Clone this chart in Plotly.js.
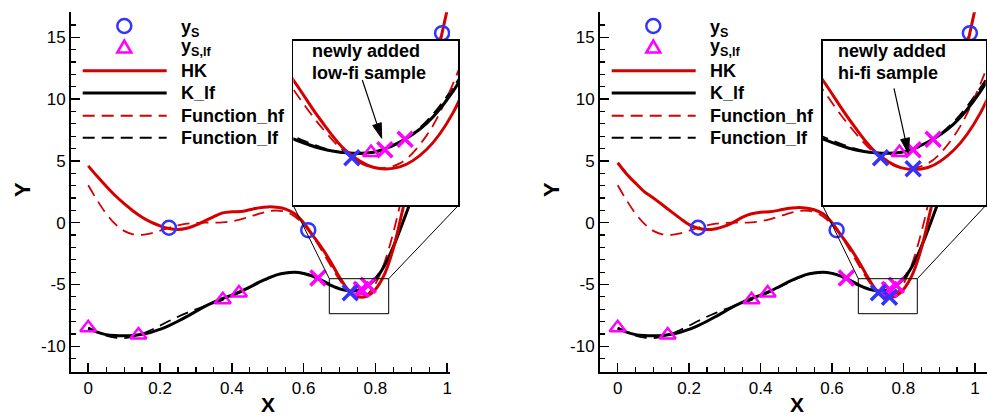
<!DOCTYPE html>
<html><head><meta charset="utf-8">
<script src="https://cdn.plot.ly/plotly-3.0.1.min.js"></script>
<style>html,body{margin:0;padding:0;background:#fff}#chart{width:987px;height:417px}</style>
</head><body><div id="chart"></div>
<script>
// ---------------- data ----------------
const xGrid = [0,0.025,0.05,0.075,0.1,0.125,0.15,0.175,0.2,0.225,0.25,0.275,0.3,0.325,0.35,0.375,0.4,0.425,0.45,0.475,0.5,0.525,0.55,0.575,0.6,0.625,0.65,0.675,0.7,0.725,0.75,0.775,0.8,0.825,0.85,0.875,0.9,0.925,0.95,0.975,1];
const hkLeft = [4.6,3.75,2.95,2.2,1.55,0.95,0.45,0.05,-0.25,-0.47,-0.55,-0.45,-0.2,0.15,0.5,0.8,0.88,0.9,1.05,1.2,1.28,1.25,1.1,0.72,0.0,-1.0,-2.0,-3.13,-4.4,-5.45,-5.97,-5.96,-5.4,-4.2,-2.1,0.9,4.0,7.3,10.6,13.9,17.2];
const hkRight = [4.85,3.95,3.2,2.5,2.0,1.45,0.9,0.35,-0.15,-0.45,-0.55,-0.48,-0.28,0.05,0.45,0.72,0.85,0.88,1.0,1.15,1.22,1.2,1.05,0.72,0.0,-1.0,-2.0,-3.13,-4.4,-5.47,-5.99,-5.98,-5.4,-4.2,-2.1,0.9,4.0,7.3,10.6,13.9,17.2];
const kLf = [-8.55,-8.85,-9.05,-9.13,-9.15,-9.12,-9.02,-8.87,-8.62,-8.32,-7.97,-7.58,-7.17,-6.77,-6.42,-6.12,-5.85,-5.56,-5.2,-4.83,-4.5,-4.22,-4.06,-4.0,-4.1,-4.32,-4.68,-5.05,-5.35,-5.5,-5.48,-5.15,-4.55,-3.5,-1.95,-0.1,1.85,3.85,5.65,7.05,7.9];
const fnHf = [3.027,1.813,0.738,-0.100,-0.657,-0.935,-0.978,-0.854,-0.640,-0.407,-0.210,-0.079,-0.016,0.000,0.002,0.030,0.115,0.270,0.483,0.717,0.909,0.986,0.871,0.503,-0.149,-1.074,-2.209,-3.439,-4.606,-5.522,-5.993,-5.845,-4.949,-3.253,-0.799,2.272,5.712,9.187,12.303,14.648,15.830];
const fnLf = [-8.487,-8.843,-9.131,-9.300,-9.329,-9.218,-8.989,-8.677,-8.320,-7.954,-7.605,-7.289,-7.008,-6.750,-6.499,-6.235,-5.942,-5.615,-5.258,-4.891,-4.545,-4.257,-4.064,-3.998,-4.075,-4.287,-4.605,-4.970,-5.303,-5.511,-5.497,-5.173,-4.475,-3.377,-1.900,-0.114,1.856,3.844,5.652,7.074,7.915];
// samples
const ysX = [0.225, 0.613, 0.986];
const ysY = [-0.41, -0.6, 15.33];
const yslfX = [0, 0.14, 0.375, 0.42, 0.748];
const yslfY = [-8.49, -9.09, -6.235, -5.68, -5.49];
const lfCrossX = [0.64, 0.761, 0.78];
const lfCrossY = [-4.47, -5.40, -5.06];
const hfCrossXLeft = [0.73];
const hfCrossYLeft = [-5.66];
const hfCrossXRight = [0.73, 0.761];
const hfCrossYRight = [-5.66, -6.02];
const legendLabels = ['<b>y<sub>S</sub></b>', '<b>y<sub>S,lf</sub></b>', '<b>HK</b>', '<b>K_lf</b>', '<b>Function_hf</b>', '<b>Function_lf</b>'];
const insetNotes = [['<b>newly added</b>', '<b>low-fi sample</b>'], ['<b>newly added</b>', '<b>hi-fi sample</b>']];
const xTickVals = [0, 0.2, 0.4, 0.6, 0.8, 1];
const xTickText = ['0', '0.2', '0.4', '0.6', '0.8', '1'];
const yTickVals = [-10, -5, 0, 5, 10, 15];
const yTickText = ['-10', '-5', '0', '5', '10', '15'];

// ---------------- styling ----------------
const W = 987, H = 417;
const px = v => v / W, py = v => 1 - v / H;
const RED = '#d40000', BLUE = '#3333ff', MAG = '#ff00ff';
const FONT = 'Liberation Sans, Arial, Helvetica, sans-serif';
const DASH = '12px,7px';

function setTraces(xa, ya, hk, hfX, hfY) {
  return [
    {x: xGrid, y: fnLf, xaxis: xa, yaxis: ya, mode: 'lines', line: {color: 'black', width: 1.8, dash: DASH, shape: 'spline'}},
    {x: xGrid, y: fnHf, xaxis: xa, yaxis: ya, mode: 'lines', line: {color: RED, width: 1.8, dash: DASH, shape: 'spline'}},
    {x: xGrid, y: kLf, xaxis: xa, yaxis: ya, mode: 'lines', line: {color: 'black', width: 3, shape: 'spline'}},
    {x: xGrid, y: hk, xaxis: xa, yaxis: ya, mode: 'lines', line: {color: RED, width: 3, shape: 'spline'}},
    {x: ysX, y: ysY, xaxis: xa, yaxis: ya, mode: 'markers', marker: {symbol: 'circle-open', size: 14, color: BLUE, line: {width: 2.5, color: BLUE}}},
    {x: yslfX, y: yslfY, xaxis: xa, yaxis: ya, mode: 'markers', marker: {symbol: 'triangle-up-open', size: 14, color: MAG, line: {width: 2.5, color: MAG}}},
    {x: lfCrossX, y: lfCrossY, xaxis: xa, yaxis: ya, mode: 'markers', marker: {symbol: 'x-thin-open', size: 15, color: MAG, line: {width: 3.5, color: MAG}}},
    {x: hfX, y: hfY, xaxis: xa, yaxis: ya, mode: 'markers', marker: {symbol: 'x-thin-open', size: 15, color: BLUE, line: {width: 3.5, color: BLUE}}}
  ];
}

const data = [].concat(
  setTraces('x', 'y', hkLeft, hfCrossXLeft, hfCrossYLeft),
  setTraces('x2', 'y2', hkRight, hfCrossXRight, hfCrossYRight),
  setTraces('x3', 'y3', hkLeft, hfCrossXLeft, hfCrossYLeft),
  setTraces('x4', 'y4', hkRight, hfCrossXRight, hfCrossYRight)
);
data.forEach(t => { t.showlegend = false; t.hoverinfo = 'skip'; });

function mainX(dom, range, anchor) {
  return {domain: dom, range: range, anchor: anchor, showline: true, linewidth: 2, linecolor: 'black',
    ticks: 'inside', ticklen: 9, tickwidth: 1.5, tickcolor: 'black', tickvals: xTickVals, ticktext: xTickText,
    minor: {ticks: 'inside', ticklen: 5, tickwidth: 1.2, tickcolor: 'black', dtick: 0.05, tick0: 0, showgrid: false},
    showgrid: false, zeroline: false, tickfont: {family: FONT, size: 17, color: 'black'}};
}
function mainY(dom, range, anchor) {
  return {domain: dom, range: range, anchor: anchor, showline: true, linewidth: 2, linecolor: 'black',
    ticks: 'inside', ticklen: 9, tickwidth: 1.5, tickcolor: 'black', tickvals: yTickVals, ticktext: yTickText,
    minor: {ticks: 'inside', ticklen: 5, tickwidth: 1.2, tickcolor: 'black', dtick: 1, tick0: 0, showgrid: false},
    showgrid: false, zeroline: false, tickfont: {family: FONT, size: 17, color: 'black'}};
}
function insetAx(dom, range, anchor) {
  return {domain: dom, range: range, anchor: anchor, showline: true, mirror: true, linewidth: 1.5, linecolor: 'black',
    ticks: '', showticklabels: false, showgrid: false, zeroline: false};
}
const yDom = [py(371.7), py(12.3)];
const yRange = [-12.05, 17.02];
const insetYDom = [py(205), py(40.7)];
const insetXRange = [0.675, 0.83];
const insetYRange = [-7.2, -1.85];

const shapes = [];
const annotations = [];
function addLegend(o) {
  shapes.push({type: 'circle', xref: 'paper', yref: 'paper', x0: px(117.3 + o), x1: px(131.3 + o), y0: py(33), y1: py(19), line: {color: BLUE, width: 2.5}});
  const cx = 124.3 + o, cy = 47.5;
  shapes.push({type: 'path', xref: 'paper', yref: 'paper', path: `M ${px(cx)} ${py(cy - 7)} L ${px(cx - 7)} ${py(cy + 5)} L ${px(cx + 7)} ${py(cy + 5)} Z`, line: {color: MAG, width: 2.5}});
  const rows = [[70.7, RED, 'solid', 3], [93, 'black', 'solid', 3], [115.7, RED, DASH, 2], [137.7, 'black', DASH, 2]];
  rows.forEach(r => shapes.push({type: 'line', xref: 'paper', yref: 'paper', x0: px(82.7 + o), x1: px(166.7 + o), y0: py(r[0]), y1: py(r[0]), line: {color: r[1], width: r[3], dash: r[2]}}));
  const ty = [28, 48, 71, 93, 115.7, 137.7];
  legendLabels.forEach((t, i) => annotations.push({xref: 'paper', yref: 'paper', x: px(179 + o), y: py(ty[i]), text: t, showarrow: false, xanchor: 'left', yanchor: 'middle', font: {family: FONT, size: 18, color: 'black'}}));
}
addLegend(0);
addLegend(529);

function addZoom(rx0, rx1, ix0, ix1) {
  shapes.push({type: 'rect', xref: 'paper', yref: 'paper', x0: px(rx0), x1: px(rx1), y0: py(313.7), y1: py(278.7), line: {color: 'black', width: 1}});
  shapes.push({type: 'line', xref: 'paper', yref: 'paper', x0: px(ix0), y0: py(205.5), x1: px(rx0), y1: py(278.7), line: {color: 'black', width: 1}});
  shapes.push({type: 'line', xref: 'paper', yref: 'paper', x0: px(ix1), y0: py(205.5), x1: px(rx1), y1: py(278.7), line: {color: 'black', width: 1}});
}
addZoom(329.3, 388.7, 293.3, 458.3);
addZoom(858.3, 917.3, 822.7, 985.7);

// arrows drawn as a shaft plus a filled head (pixel positions)
function addArrow(tx, ty, hx, hy) {
  const dx = hx - tx, dy = hy - ty, L = Math.hypot(dx, dy);
  const ux = dx / L, uy = dy / L, nx = -uy, ny = ux;
  const hl = 15, hw = 4.5;
  const bx = hx - hl * ux, by = hy - hl * uy;
  shapes.push({type: 'line', xref: 'paper', yref: 'paper', x0: px(tx), y0: py(ty), x1: px(bx), y1: py(by), line: {color: 'black', width: 1.2}});
  shapes.push({type: 'path', xref: 'paper', yref: 'paper', path: `M ${px(hx)} ${py(hy)} L ${px(bx + hw * nx)} ${py(by + hw * ny)} L ${px(bx - hw * nx)} ${py(by - hw * ny)} Z`, fillcolor: 'black', line: {color: 'black', width: 1}});
}
addArrow(362.3, 80, 381.7, 138.3);
addArrow(894, 88.3, 908.3, 153.3);

// inset notes
[[310, 0], [836, 1]].forEach(([x0, k]) => {
  annotations.push({xref: 'paper', yref: 'paper', x: px(x0), y: py(50.7), text: insetNotes[k][0], showarrow: false, xanchor: 'left', yanchor: 'middle', font: {family: FONT, size: 18, color: 'black'}});
  annotations.push({xref: 'paper', yref: 'paper', x: px(x0), y: py(73.3), text: insetNotes[k][1], showarrow: false, xanchor: 'left', yanchor: 'middle', font: {family: FONT, size: 18, color: 'black'}});
});

// axis titles
[268, 797].forEach(x => annotations.push({xref: 'paper', yref: 'paper', x: px(x), y: 0, text: '<b>X</b>', showarrow: false, xanchor: 'center', yanchor: 'bottom', borderpad: 0, font: {family: FONT, size: 21, color: 'black'}}));
[22, 551].forEach(x => annotations.push({xref: 'paper', yref: 'paper', x: px(x), y: py(190), text: '<b>Y</b>', textangle: -90, showarrow: false, xanchor: 'center', yanchor: 'middle', font: {family: FONT, size: 22, color: 'black'}}));

const layout = {
  width: W, height: H, margin: {l: 0, r: 0, t: 0, b: 0},
  paper_bgcolor: 'white', plot_bgcolor: 'white', showlegend: false,
  xaxis: mainX([px(71), px(450)], [-0.048, 1.008], 'y'),
  yaxis: mainY(yDom, yRange, 'x'),
  xaxis2: mainX([px(600), 1], [-0.0495, 1.034], 'y2'),
  yaxis2: mainY(yDom, yRange, 'x2'),
  xaxis3: insetAx([px(293.3), px(458.3)], insetXRange, 'y3'),
  yaxis3: insetAx(insetYDom, insetYRange, 'x3'),
  xaxis4: insetAx([px(822.7), px(985.7)], insetXRange, 'y4'),
  yaxis4: insetAx(insetYDom, insetYRange, 'x4'),
  shapes: shapes, annotations: annotations
};
Plotly.newPlot('chart', data, layout, {staticPlot: true, displayModeBar: false});
</script>
</body></html>
